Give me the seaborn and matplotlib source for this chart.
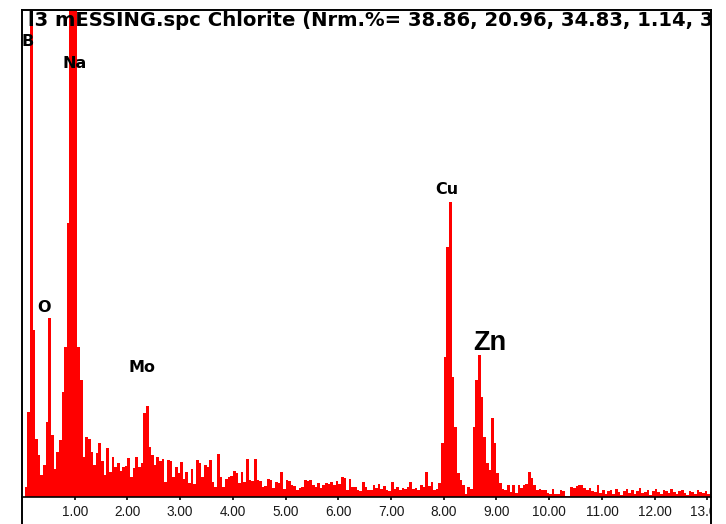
import numpy as np
import pandas as pd
import matplotlib
matplotlib.use("Agg")
import matplotlib.pyplot as plt
import seaborn as sns
from matplotlib.lines import Line2D
from matplotlib.transforms import Bbox, TransformedBbox

# ---------------- data ----------------
channel_start_kev = 0.0
channel_width_kev = 0.05
counts = [
    0, 10, 85, 800, 167, 58, 42, 22, 32, 75,
    179, 62, 28, 45, 57, 105, 150, 274, 760, 900,
    820, 150, 117, 40, 60, 58, 45, 32, 44, 54,
    36, 22, 49, 25, 40, 30, 34, 26, 30, 31,
    39, 20, 29, 40, 30, 34, 84, 91, 50, 42,
    32, 40, 36, 38, 15, 37, 36, 20, 30, 24,
    35, 18, 25, 14, 28, 13, 37, 34, 20, 32,
    30, 37, 15, 10, 43, 20, 10, 18, 20, 21,
    26, 24, 14, 25, 15, 38, 17, 16, 38, 17,
    16, 10, 11, 18, 17, 9, 15, 14, 25, 8,
    17, 16, 12, 11, 7, 9, 10, 17, 16, 17,
    12, 10, 14, 9, 12, 14, 13, 15, 12, 16,
    13, 20, 19, 7, 18, 10, 10, 7, 6, 15,
    10, 7, 7, 12, 9, 13, 8, 11, 7, 6,
    15, 8, 10, 7, 9, 8, 10, 15, 8, 9,
    7, 12, 10, 25, 11, 15, 7, 8, 14, 54,
    140, 250, 295, 120, 70, 24, 17, 12, 3, 10,
    8, 70, 117, 142, 100, 60, 34, 27, 79, 54,
    24, 14, 8, 7, 12, 5, 12, 4, 12, 9,
    12, 13, 25, 19, 12, 7, 8, 7, 7, 4,
    3, 8, 3, 3, 7, 6, 1, 1, 10, 9,
    11, 12, 12, 9, 7, 9, 6, 5, 12, 4,
    7, 3, 6, 7, 3, 8, 5, 2, 6, 8,
    4, 7, 3, 6, 9, 4, 5, 7, 2, 6,
    8, 5, 3, 7, 6, 4, 8, 5, 3, 6,
    7, 4, 2, 6, 5, 3, 7, 5, 4, 6,
    3, 5,
]
tick_values = [1, 2, 3, 4, 5, 6, 7, 8, 9, 10, 11, 12, 13]
tick_labels = ["1.00", "2.00", "3.00", "4.00", "5.00", "6.00", "7.00",
               "8.00", "9.00", "10.00", "11.00", "12.00", "13.00"]
title_text = "l3 mESSING.spc Chlorite (Nrm.%= 38.86, 20.96, 34.83, 1.14, 3"
peak_labels = ["B", "Na", "O", "Mo", "Cu", "Zn"]
peak_label_kev = [0.108, 1.0, 0.41, 2.28, 8.06, 8.88]
peak_label_counts = [455, 434, 190, 129, 308, 154]

# ---------------- figure ----------------
sns.set_theme(style="white")
W, H = 726, 524
fig = plt.figure(figsize=(W / 100, H / 100), dpi=100)
fig.patch.set_facecolor("white")
ax = fig.add_axes([22 / W, 27 / H, 689 / W, 487 / H])
ax.set_facecolor("white")

n = len(counts)
energy = channel_start_kev + channel_width_kev * (np.arange(n) + 0.5)
df = pd.DataFrame({"energy": energy, "counts": counts})
sns.histplot(data=df, x="energy", weights="counts",
             binwidth=channel_width_kev,
             binrange=(channel_start_kev, channel_start_kev + n * channel_width_kev),
             color="#ff0000", alpha=1, linewidth=0,
             element="bars", ax=ax)

ax.set_xlim(0, 13.07)
ax.set_ylim(0, 487)
ax.set_xlabel("")
ax.set_ylabel("")
ax.set_yticks([])
ax.set_xticks(tick_values)
ax.set_xticklabels(tick_labels, fontsize=9.8, family="Liberation Sans")
ax.tick_params(axis="x", direction="out", length=2.5, width=1.2,
               color="black", labelcolor="#1a1a1a", pad=3.5, bottom=True)
clip = TransformedBbox(Bbox([[0, 0], [711 / W, 1]]), fig.transFigure)
for lbl in ax.get_xticklabels():
    lbl.set_clip_box(clip)
    lbl.set_clip_on(True)

for s in ax.spines.values():
    s.set_visible(True)
    s.set_color("black")
    s.set_linewidth(1.4)
ax.spines["bottom"].set_linewidth(1.2)

for xf in (22 / W, 711 / W):
    fig.add_artist(Line2D([xf, xf], [0, 27 / H], transform=fig.transFigure,
                          color="black", lw=1.4))

ax.text(0.11, 477, title_text, fontsize=14.1, fontweight="bold",
        family="DejaVu Sans", ha="left", va="center", clip_on=True,
        color="black", zorder=5)

for name, xk, yc in zip(peak_labels, peak_label_kev, peak_label_counts):
    if name == "Zn":
        ax.text(xk, yc, name, fontsize=19.5, fontweight="bold",
                family="Liberation Sans", ha="center", va="center",
                color="black", zorder=5)
    else:
        ax.text(xk, yc, name, fontsize=11.5, fontweight="bold",
                family="DejaVu Sans", ha="center", va="center",
                color="black", zorder=5)

fig.savefig("out.png", dpi=100, facecolor="white")
